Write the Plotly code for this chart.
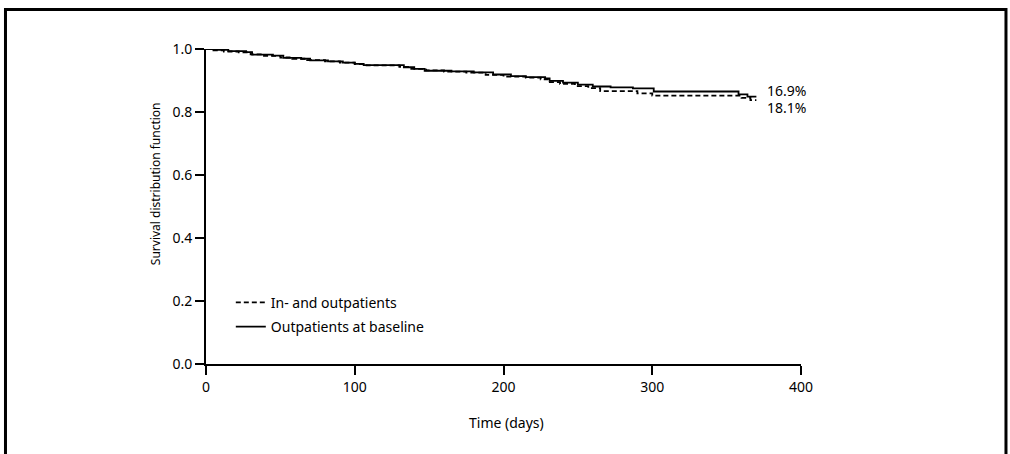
import plotly.graph_objects as go

# Kaplan-Meier step data (time in days, survival)
t_out = [0, 8, 15, 27, 31, 45, 52, 64, 70, 82, 92, 100, 106, 133, 140, 147, 165, 180,
         193, 205, 215, 228, 231, 240, 250, 260, 272, 287, 301, 358, 364, 370]
s_out = [1.0, 0.997, 0.993, 0.990, 0.982, 0.979, 0.972, 0.969, 0.964, 0.961, 0.957, 0.953,
         0.949, 0.942, 0.937, 0.931, 0.929, 0.926, 0.919, 0.914, 0.911, 0.907, 0.899, 0.893,
         0.887, 0.881, 0.878, 0.875, 0.865, 0.856, 0.849, 0.849]

t_all = [0, 5, 12, 22, 30, 38, 50, 58, 68, 80, 90, 100, 108, 130, 138, 148, 160, 175,
         188, 200, 215, 225, 230, 238, 248, 257, 265, 290, 300, 360, 366, 370]
s_all = [1.0, 0.996, 0.992, 0.989, 0.983, 0.978, 0.973, 0.969, 0.965, 0.961, 0.957, 0.952,
         0.948, 0.943, 0.937, 0.932, 0.928, 0.925, 0.918, 0.912, 0.909, 0.904, 0.895, 0.889,
         0.882, 0.876, 0.866, 0.859, 0.852, 0.845, 0.838, 0.838]

series_names = ["In- and outpatients", "Outpatients at baseline"]
end_labels = ["16.9%", "18.1%"]
x_ticks = [0, 100, 200, 300, 400]
y_ticks = [0.0, 0.2, 0.4, 0.6, 0.8, 1.0]

FONT = "Noto Sans"
FS = 14

fig = go.Figure()
fig.add_trace(go.Scatter(x=t_all, y=s_all, mode="lines", line_shape="hv",
                         line=dict(color="black", width=1.8, dash="5px,3px"),
                         name=series_names[0], legendgroup="a"))
fig.add_trace(go.Scatter(x=t_out, y=s_out, mode="lines", line_shape="hv",
                         line=dict(color="black", width=1.8),
                         name=series_names[1], legendgroup="b"))

axis_common = dict(showline=True, linecolor="black", linewidth=2, ticks="outside",
                   ticklen=9, tickwidth=1.5, tickcolor="black", showgrid=False,
                   zeroline=False, tickfont=dict(family=FONT, size=FS, color="black"))

fig.update_xaxes(range=[0, 400], tickvals=x_ticks, **axis_common)
fig.update_yaxes(range=[0, 1], tickvals=y_ticks, tickformat=".1f", **axis_common)

annotations = [
    dict(text="Survival distribution function", textangle=-90, x=-0.0857, y=0.571,
         xref="paper", yref="paper", xanchor="center", yanchor="middle", showarrow=False,
         font=dict(family=FONT, size=12, color="black")),
    dict(text="Time (days)", x=0.505, y=-0.187, xref="paper", yref="paper",
         xanchor="center", yanchor="middle",
         showarrow=False, font=dict(family=FONT, size=FS, color="black")),
    dict(text=end_labels[0], x=0.94, y=0.868, xref="paper", yref="paper",
         xanchor="left", yanchor="middle", showarrow=False,
         font=dict(family=FONT, size=FS, color="black")),
    dict(text=end_labels[1], x=0.94, y=0.815, xref="paper", yref="paper",
         xanchor="left", yanchor="middle", showarrow=False,
         font=dict(family=FONT, size=FS, color="black")),
]

fig.update_layout(
    width=1010, height=454,
    margin=dict(l=206, r=209, t=49, b=90),
    plot_bgcolor="white", paper_bgcolor="white",
    annotations=annotations,
    showlegend=True,
    legend=dict(x=0.0417, y=0.245, xanchor="left", yanchor="top",
                bgcolor="rgba(0,0,0,0)", tracegroupgap=3,
                font=dict(family=FONT, size=FS, color="black")),
    shapes=[dict(type="rect", xref="paper", yref="paper",
                 x0=-0.337, x1=1.3445, y0=-0.35, y1=1.1254,
                 line=dict(color="black", width=3))],
)

fig.write_html("out.html",
               config={"displayModeBar": False},
               post_script="document.body.style.margin='0';document.body.style.overflow='hidden';")
